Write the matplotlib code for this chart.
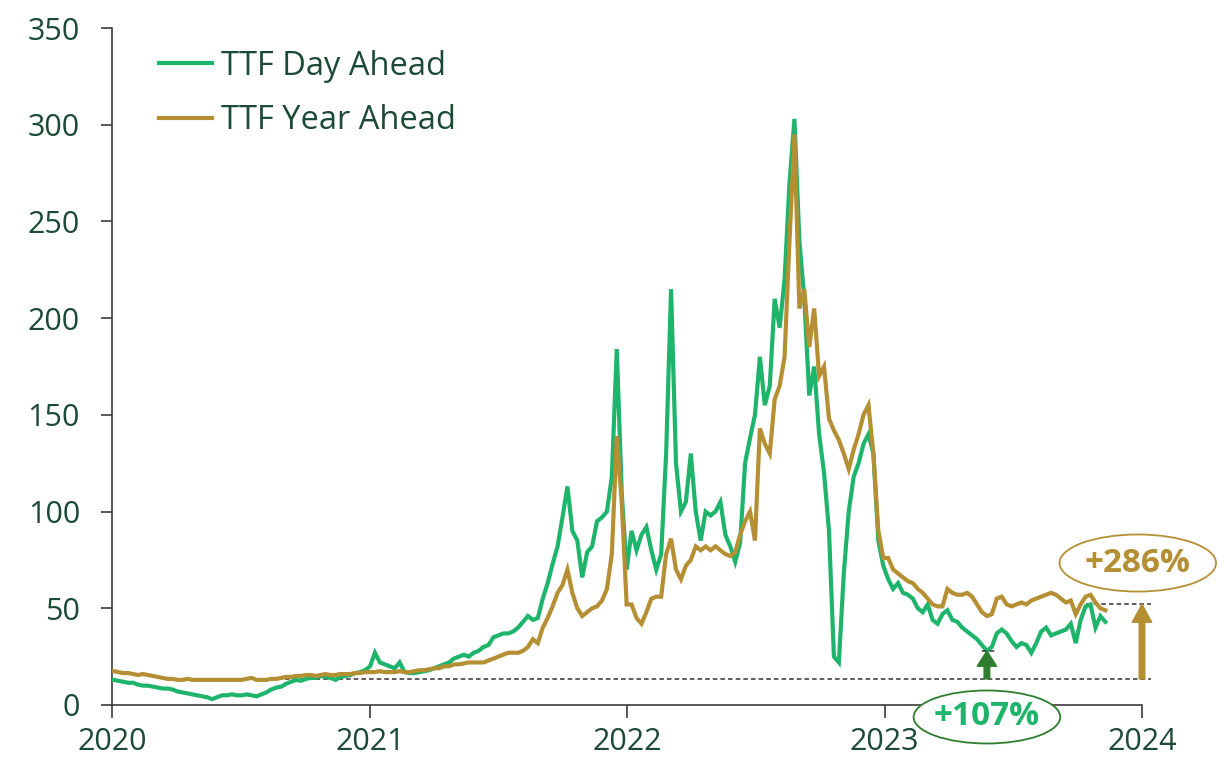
import numpy as np
import pandas as pd
import matplotlib
matplotlib.use("Agg")
import matplotlib.pyplot as plt
import matplotlib.dates as mdates
from matplotlib.patches import Ellipse

plt.rcParams['font.family'] = ['Open Sans', 'DejaVu Sans']

# Weekly TTF prices (EUR/MWh), Fridays from 3 Jan 2020
day_ahead_2020 = [13, 12.5, 12, 11.5, 11.5, 10.5, 10, 10, 9.5, 9, 8.5, 8.5, 8,
                  7, 6.5, 6, 5.5, 5, 4.5, 4, 3, 4, 5, 5, 5.5, 5,
                  5, 5.5, 5, 4.5, 5.5, 6.5, 8, 9, 9.5, 11, 12, 13, 12.5,
                  13.5, 14, 14, 15, 14.5, 14, 13, 14.5, 15, 15.5, 16.5, 17, 18]
day_ahead_2021 = [20, 27, 22, 21, 20, 19, 22, 17, 16.5, 16.5, 17, 17.5, 18,
                  19, 20, 21, 22, 24, 25, 26, 25, 27, 28, 30, 31, 35,
                  36, 37, 37, 38, 40, 43, 46, 44, 45, 55, 63, 73, 82,
                  97, 113, 90, 85, 66, 79, 82, 95, 97, 100, 118, 184, 110, 70]
day_ahead_2022 = [90, 80, 88, 92, 80, 70, 78, 130, 215, 125, 100, 105,
                  130, 100, 85, 100, 98, 100, 105, 88, 82, 74, 84, 125, 138,
                  150, 180, 155, 165, 210, 195, 220, 270, 303, 240, 210, 160, 175, 140,
                  120, 90, 25, 22, 68, 100, 118, 125, 135, 140, 130, 85, 72]
day_ahead_2023 = [65, 60, 63, 58, 57, 55, 50, 48, 52, 44, 42, 47, 49,
                  44, 43, 40, 38, 36, 34, 31, 28, 30, 37, 39, 37, 33,
                  30, 32, 31, 27, 32, 38, 40, 36, 37, 38, 39, 42, 32,
                  44, 51, 52, 40, 46, 43]

year_ahead_2020 = [17.5, 17, 16.5, 16.5, 16, 15.5, 16, 15.5, 15, 14.5, 14, 13.5, 13.5,
                   13, 13, 13.5, 13, 13, 13, 13, 13, 13, 13, 13, 13, 13,
                   13, 13.5, 14, 13, 13, 13, 13.5, 13.5, 14, 14.5, 14.5, 15, 15,
                   15.5, 15.5, 15, 15.5, 16, 15.5, 15.5, 16, 16, 16, 16.5, 16.5, 17]
year_ahead_2021 = [17, 17, 17.5, 17, 17, 17, 17.5, 17, 17, 17.5, 18, 18, 18.5,
                   19, 19, 20, 20, 21, 21, 21.5, 22, 22, 22, 22, 23, 24,
                   25, 26, 27, 27, 27, 28, 30, 34, 32, 40, 45, 51, 58,
                   62, 70, 58, 50, 46, 48, 50, 51, 54, 60, 78, 139, 105, 52]
year_ahead_2022 = [52, 45, 42, 48, 55, 56, 56, 78, 86, 70, 65, 72,
                   75, 82, 80, 82, 80, 82, 80, 78, 77, 79, 88, 95, 100,
                   85, 143, 135, 130, 158, 165, 180, 240, 295, 205, 215, 185, 205, 170,
                   175, 148, 142, 137, 130, 122, 132, 140, 150, 155, 130, 90, 76]
year_ahead_2023 = [76, 70, 68, 66, 64, 63, 60, 58, 55, 52, 51, 51, 60,
                   58, 57, 57, 58, 56, 52, 48, 46, 47, 55, 56, 52, 51,
                   52, 53, 52, 54, 55, 56, 57, 58, 57, 55, 53, 54, 47,
                   52, 56, 57, 53, 50, 49]

series_labels = ["TTF Day Ahead", "TTF Year Ahead"]
year_ticks = [2020, 2021, 2022, 2023, 2024]
y_ticks = [0, 50, 100, 150, 200, 250, 300, 350]

# Reference level and the two increases quoted on the chart
base_level = 13.5
day_ahead_change = 107   # %
year_ahead_change = 286  # %

GREEN = "#1fb46c"
GOLD = "#b58f33"
DARK_GREEN = "#2f7d2f"
TEXT = "#1d4a38"
AXIS = "#3c3c3c"
FS_TICK = 22
FS_LEG = 23.5
FS_CALL = 24

day_ahead = day_ahead_2020 + day_ahead_2021 + day_ahead_2022 + day_ahead_2023
year_ahead = year_ahead_2020 + year_ahead_2021 + year_ahead_2022 + year_ahead_2023
dates_da = pd.date_range("2020-01-03", periods=len(day_ahead), freq="7D")
dates_ya = pd.date_range("2020-01-03", periods=len(year_ahead), freq="7D")

fig = plt.figure(figsize=(12.19, 7.65), dpi=100)
ax = fig.add_axes([112 / 1219, 60 / 765, 1030 / 1219, 677 / 765])

ax.plot(dates_da, day_ahead, color=GREEN, lw=3.0, label=series_labels[0], zorder=3,
        solid_joinstyle="miter")
ax.plot(dates_ya, year_ahead, color=GOLD, lw=3.0, label=series_labels[1], zorder=3.2,
        solid_joinstyle="miter")

ax.set_xlim(pd.Timestamp("2020-01-01"), pd.Timestamp("2024-01-01"))
ax.set_ylim(0, 350)
ax.set_xticks([pd.Timestamp(f"{y}-01-01") for y in year_ticks])
ax.set_xticklabels([str(y) for y in year_ticks])
ax.set_yticks(y_ticks)

for side in ("top", "right"):
    ax.spines[side].set_visible(False)
for side in ("left", "bottom"):
    ax.spines[side].set_color(AXIS)
    ax.spines[side].set_linewidth(1.2)
ax.tick_params(axis="y", direction="out", length=8, width=1.2, color=AXIS,
               labelsize=FS_TICK, labelcolor=TEXT, pad=15)
ax.tick_params(axis="x", direction="out", length=9, width=1.2, color=AXIS,
               labelsize=FS_TICK, labelcolor=TEXT, pad=7)

# Annotation geometry
da_low = base_level * (1 + day_ahead_change / 100)
ya_high = base_level * (1 + year_ahead_change / 100)
d = mdates.date2num
x_start = d(pd.Timestamp("2020-09-02"))
x_end = d(pd.Timestamp("2024-01-14"))
x_da_arrow = d(pd.Timestamp("2023-05-26"))
x_ya_arrow = d(pd.Timestamp("2024-01-01"))

ax.plot([x_start, x_end], [base_level] * 2, ls=(0, (3, 2)), color="#333333", lw=1.1,
        zorder=2.5, clip_on=False)
ax.plot([d(pd.Timestamp("2023-10-13")), x_end], [ya_high] * 2, ls=(0, (3, 2)),
        color="#333333", lw=1.1, zorder=2.5, clip_on=False)
ax.plot([d(pd.Timestamp("2023-05-19")), d(pd.Timestamp("2023-06-09"))], [da_low] * 2,
        ls=(0, (3, 2)), color="#333333", lw=1.1, zorder=4)

ax.annotate("", xy=(x_da_arrow, da_low), xytext=(x_da_arrow, base_level),
            arrowprops=dict(width=4, headwidth=14, headlength=11, color=DARK_GREEN,
                            shrink=0), zorder=5)
ax.annotate("", xy=(x_ya_arrow, ya_high), xytext=(x_ya_arrow, base_level),
            arrowprops=dict(width=4, headwidth=14, headlength=13, color=GOLD,
                            shrink=0), annotation_clip=False, zorder=5)

# Ellipse call-outs
e1 = Ellipse((d(pd.Timestamp("2023-12-26")), 73.4), width=222, height=29.5,
             facecolor="white", edgecolor=GOLD, lw=1.3, zorder=6, clip_on=False)
ax.add_patch(e1)
ax.text(d(pd.Timestamp("2023-12-26")), 73.4, f"+{year_ahead_change}%", color=GOLD,
        fontsize=FS_CALL, fontweight="bold", ha="center", va="center", zorder=7,
        clip_on=False)
e2 = Ellipse((x_da_arrow, -6.2), width=208, height=27.4,
             facecolor="white", edgecolor=DARK_GREEN, lw=1.3, zorder=6, clip_on=False)
ax.add_patch(e2)
ax.text(x_da_arrow, -6.2, f"+{day_ahead_change}%", color=GREEN,
        fontsize=FS_CALL, fontweight="bold", ha="center", va="center", zorder=7,
        clip_on=False)

leg = ax.legend(loc="upper left", bbox_to_anchor=(0.046, 0.968), frameon=False,
                fontsize=FS_LEG, handlelength=1.6, handletextpad=0.3, labelspacing=0.66,
                borderaxespad=0, borderpad=0)
for t in leg.get_texts():
    t.set_color(TEXT)

fig.savefig("out.png", dpi=100, facecolor="white")
